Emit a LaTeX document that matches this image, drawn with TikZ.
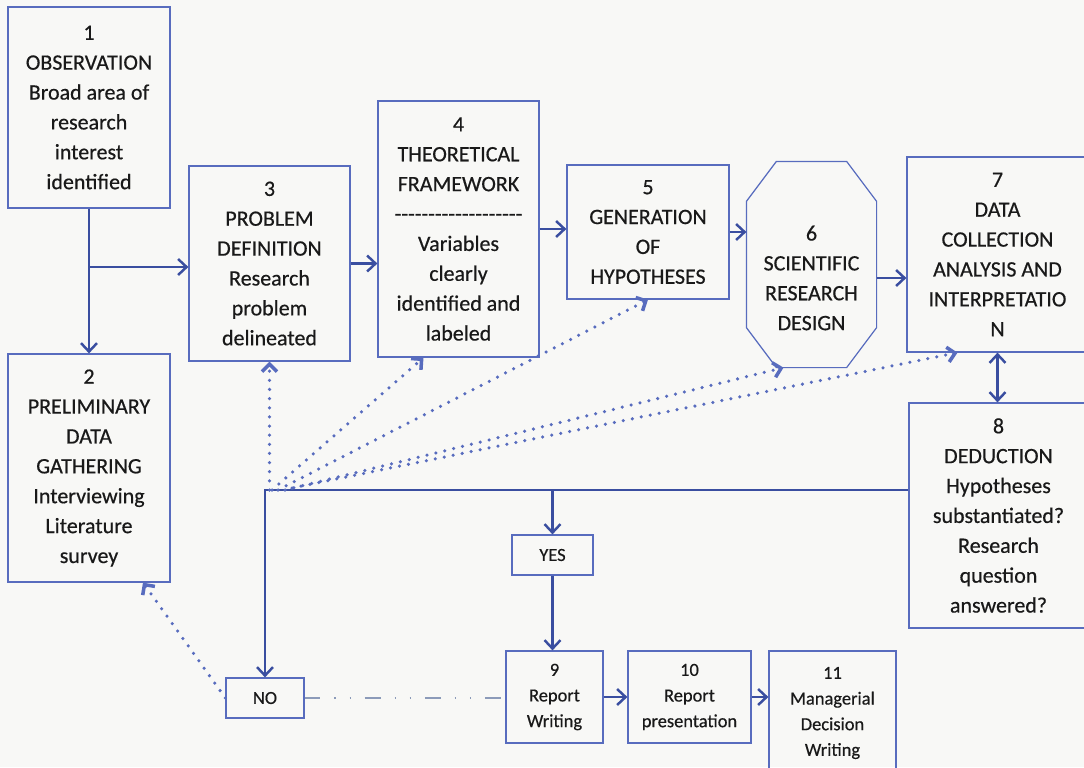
\documentclass[tikz,border=0pt]{standalone}
\usepackage{fontspec}
\setmainfont{Carlito}[FakeBold=0.5]
\newfontfamily\nolig{Carlito}[Ligatures=TeXOff,FakeBold=0.5]
\usepackage{tikz}
\usetikzlibrary{calc,arrows.meta}
\definecolor{flowblue}{RGB}{58,78,160}
\definecolor{edgeblue}{RGB}{88,108,190}
\definecolor{paper}{RGB}{248,248,246}
\definecolor{inkgrey}{RGB}{25,25,25}
\definecolor{dashgrey}{RGB}{140,155,185}
\tikzset{
  >={Straight Barb[length=1.7mm,width=3.2mm]},
  bigbox/.style={draw=edgeblue, line width=0.7pt, inner sep=0pt, align=center, text=inkgrey,
    font=\fontsize{12.5}{17}\selectfont},
  smallbox/.style={bigbox, font=\fontsize{10.5}{14.6}\selectfont},
  flow/.style={draw=flowblue, line width=1.4pt, ->},
  hint/.style={draw=edgeblue, line width=2pt, line cap=round, dash pattern=on 0pt off 5.2pt,
    -{Straight Barb[length=1.5mm,width=3mm]}},
  backlink/.style={draw=dashgrey, line width=1.2pt, dash pattern=on 9pt off 8pt on 0.6pt off 8pt on 0.6pt off 8pt}
}
\begin{document}
\begin{tikzpicture}[x=0.2mm,y=-0.2mm]
		%%%%% START %%%%%
		\useasboundingbox (0,0) rectangle (1084,767);
		\fill[paper] (0,0) rectangle (1084,767);
		
		% top row
		\node[bigbox, minimum width=3.24cm, minimum height=4.02cm] (b1) at (89,107.5)
			{1\\OBSERVATION\\Broad area of\\research\\interest\\identified};
		\node[bigbox, minimum width=3.24cm, minimum height=4.56cm] (b2) at (89,468)
			{2\\PRELIMINARY\\DATA\\GATHERING\\Interviewing\\Literature\\survey};
		\node[bigbox, minimum width=3.22cm, minimum height=3.9cm] (b3) at (269.5,263.5)
			{3\\PROBLEM\\DEFINITION\\Research\\problem\\delineated};
		\node[bigbox, minimum width=3.22cm, minimum height=5.12cm] (b4) at (458.5,229)
			{4\\THEORETICAL\\FRAMEWORK\\{\nolig -------------------}\\Variables\\clearly\\identified and\\labeled};
		\node[bigbox, minimum width=3.24cm, minimum height=2.68cm] (b5) at (648,232)
			{5\\GENERATION\\OF\\HYPOTHESES};
		
		% octagon
		\node[bigbox, draw=none, minimum width=2.58cm, minimum height=4.1cm] (b6) at (811.5,264.5) {};
		\draw[edgeblue, line width=0.7pt] ([xshift=0.6cm]b6.north west) -- ([xshift=-0.6cm]b6.north east)
			-- ([yshift=-0.8cm]b6.north east) -- ([yshift=0.8cm]b6.south east)
			-- ([xshift=-0.6cm]b6.south east) -- ([xshift=0.6cm]b6.south west)
			-- ([yshift=0.8cm]b6.south west) -- ([yshift=-0.8cm]b6.north west) -- cycle;
		\node[bigbox, draw=none] (b6txt) at (811.5,278) {6\\SCIENTIFIC\\RESEARCH\\DESIGN};
		
		\node[bigbox, minimum width=3.62cm, minimum height=3.9cm] (b7) at (997.5,254.5)
			{7\\DATA\\COLLECTION\\ANALYSIS AND\\INTERPRETATIO\\N};
		\node[bigbox, minimum width=3.58cm, minimum height=4.5cm] (b8) at (998.5,515.5)
			{8\\DEDUCTION\\Hypotheses\\substantiated?\\Research\\question\\answered?};
		
		% decision and report row
		\node[smallbox, minimum width=1.62cm, minimum height=0.8cm] (yes) at (552.5,555) {YES};
		\node[smallbox, minimum width=1.56cm, minimum height=0.8cm] (no) at (265,698) {NO};
		\node[smallbox, minimum width=1.94cm, minimum height=1.84cm] (b9) at (554.5,697) {9\\Report\\Writing};
		\node[smallbox, minimum width=2.46cm, minimum height=1.84cm] (b10) at (689.5,697) {10\\Report\\presentation};
		\node[smallbox, minimum width=2.54cm, minimum height=2.48cm] (b11) at (832.5,713) {11\\Managerial\\Decision\\Writing};
		
		% main flow
		\coordinate (split) at (89,267);
		\coordinate (loop) at (265,490);
		\draw[flow] (b1) -- (b2);
		\draw[flow] (split) -- (split -| b3.west);
		\draw[flow] (b3.east) -- (b3.east -| b4.west);
		\draw[flow] (b4.east) -- (b4.east -| b5.west);
		\draw[flow] (b5.east) -- (b5.east -| b6.west);
		\draw[flow] (b6txt -| b6.east) -- (b6txt -| b7.west);
		\draw[flow, <->] (b7.south) -- (b7.south |- b8.north);
		\draw[flow] (b8.west |- loop) -- (loop) -- (no);
		\draw[flow] (yes.north |- loop) -- (yes.north);
		\draw[flow] (yes.south) -- (yes.south |- b9.north);
		\draw[flow] (b9.east) -- (b9.east -| b10.west);
		\draw[flow] (b10.east) -- (b10.east -| b11.west);
		
		% feedback hints
		\draw[hint] (b3.south |- loop) -- (b3.south);
		\draw[hint] ($(loop)+(7,0)$) -- ([xshift=-0.7cm]b4.south);
		\draw[hint] ($(loop)+(13,0)$) -- (b5.south);
		\draw[hint] ($(loop)+(20,0)$) -- ([xshift=-0.56cm]b6.south);
		\draw[hint] ($(loop)+(27,-2)$) -- ([xshift=-0.8cm]b7.south);
		\draw[hint] (no.west) -- ([xshift=1.08cm]b2.south);
		\draw[backlink] (no.east) -- (no.east -| b9.west);
		
		%%%%% END %%%%%
\end{tikzpicture}
\end{document}
